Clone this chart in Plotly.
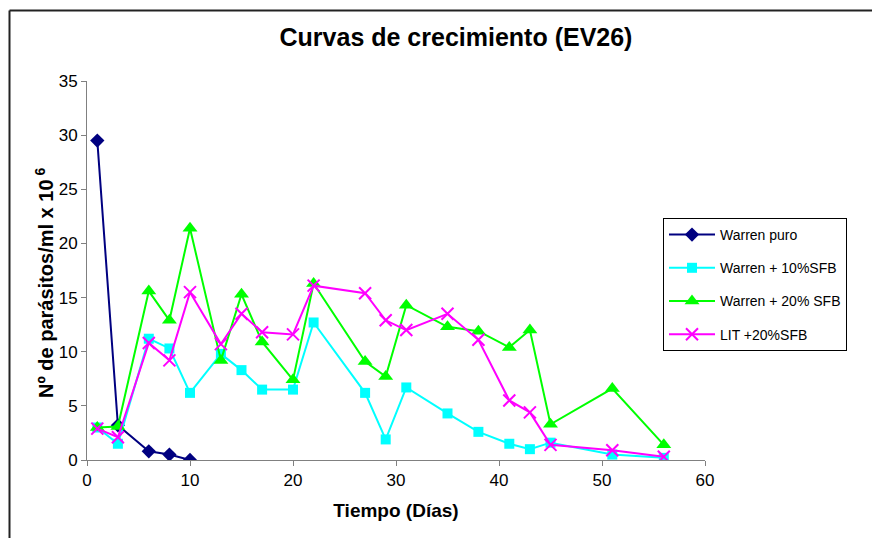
import plotly.graph_objects as go

# Data
puro_days = [1, 3, 6, 8, 10]
puro_vals = [29.5, 3.2, 0.8, 0.5, 0.0]

days = [1, 3, 6, 8, 10, 13, 15, 17, 20, 22, 27, 29, 31, 35, 38, 41, 43, 45, 51, 56]
w10_vals = [3.0, 1.5, 11.2, 10.3, 6.2, 9.8, 8.3, 6.5, 6.5, 12.7, 6.2, 1.9, 6.7, 4.3, 2.6, 1.5, 1.0, 1.6, 0.5, 0.2]
w20_vals = [3.0, 3.1, 15.6, 12.9, 21.4, 9.2, 15.3, 10.9, 7.4, 16.3, 9.1, 7.7, 14.3, 12.3, 11.9, 10.4, 12.0, 3.3, 6.6, 1.4]
lit_vals = [2.9, 2.1, 10.8, 9.2, 15.5, 10.7, 13.5, 11.8, 11.6, 16.1, 15.4, 12.9, 12.0, 13.5, 11.1, 5.5, 4.4, 1.4, 0.9, 0.3]

names = ["Warren puro", "Warren + 10%SFB", "Warren + 20% SFB", "LIT +20%SFB"]
y_title = "<b>Nº de parásitos/ml x 10<sup> 6</sup></b>"

FONT = "Liberation Sans, Arial, sans-serif"

fig = go.Figure()
fig.add_trace(go.Scatter(x=puro_days, y=puro_vals, name=names[0], mode="lines+markers",
                         legendgroup="a",
                         line=dict(color="#000080", width=2),
                         marker=dict(symbol="diamond", size=11, color="#000080")))
fig.add_trace(go.Scatter(x=days, y=w10_vals, name=names[1], mode="lines+markers",
                         legendgroup="b",
                         line=dict(color="#00FFFF", width=2),
                         marker=dict(symbol="square", size=10, color="#00FFFF")))
fig.add_trace(go.Scatter(x=days, y=w20_vals, name=names[2], mode="lines+markers",
                         legendgroup="c",
                         line=dict(color="#00FF00", width=2),
                         marker=dict(symbol="triangle-up", size=13, color="#00FF00")))
fig.add_trace(go.Scatter(x=days, y=lit_vals, name=names[3], mode="lines+markers",
                         legendgroup="d",
                         line=dict(color="#FF00FF", width=2),
                         marker=dict(symbol="x-thin", size=12, color="#FF00FF",
                                     line=dict(color="#FF00FF", width=2))))

L, R, T, B = 87, 167, 81, 78
W, H = 872, 538
pw, ph = W - L - R, H - T - B

def px_x(p):
    return (p - L) / pw

def px_y(p):
    return 1 - (p - T) / ph

fig.update_layout(
    width=W, height=H,
    margin=dict(l=L, r=R, t=T, b=B),
    paper_bgcolor="white", plot_bgcolor="white",
    font=dict(family=FONT, size=15, color="black"),
    title=dict(text="<b>Curvas de crecimiento (EV26)</b>", x=456 / W, xanchor="center",
               y=1 - 37 / H, yanchor="middle", font=dict(size=25, family=FONT)),
    showlegend=True,
    legend=dict(x=px_x(663), y=px_y(218), xanchor="left", yanchor="top",
                bordercolor="black", borderwidth=1, bgcolor="white",
                font=dict(size=14, family=FONT), tracegroupgap=12,
                itemwidth=46),
    xaxis=dict(range=[0, 60], dtick=10, tick0=0, showgrid=False, zeroline=False,
               showline=True, linecolor="#808080", linewidth=1,
               ticks="outside", ticklen=5, tickcolor="#808080",
               tickfont=dict(size=17),
               title=dict(text="<b>Tiempo (Días)</b>", font=dict(size=19), standoff=14)),
    yaxis=dict(range=[0, 35], dtick=5, tick0=0, showgrid=False, zeroline=False,
               showline=True, linecolor="#808080", linewidth=1,
               ticks="outside", ticklen=5, tickcolor="#808080",
               tickfont=dict(size=17)),
    annotations=[
        dict(text=y_title, xref="paper", yref="paper", x=px_x(44), y=px_y(283),
             xanchor="center", yanchor="middle", textangle=-90, showarrow=False,
             font=dict(size=20, family=FONT, color="black")),
    ],
    shapes=[
        dict(type="line", xref="paper", yref="paper", x0=px_x(9.5), x1=px_x(9.5),
             y0=px_y(10.5), y1=px_y(560), line=dict(color="#222222", width=2)),
        dict(type="line", xref="paper", yref="paper", x0=px_x(9.5), x1=px_x(900),
             y0=px_y(10.5), y1=px_y(10.5), line=dict(color="#222222", width=2)),
    ],
)

fig.write_html("out.html")
